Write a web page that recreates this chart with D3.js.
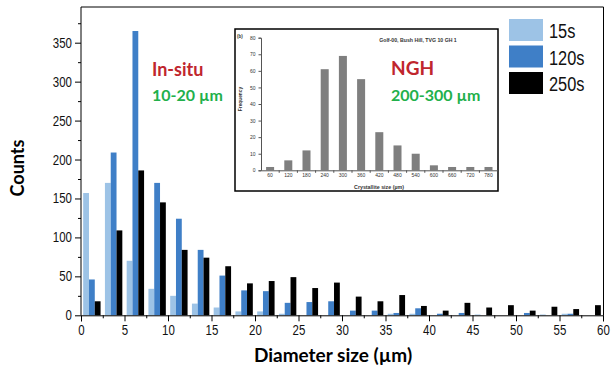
<!DOCTYPE html>
<html>
<head>
<meta charset="utf-8">
<script src="https://cdn.jsdelivr.net/npm/d3@7"></script>
<style>
  body { margin: 0; background: #fff; }
  svg { display: block; }
</style>
</head>
<body>
<div id="chart"></div>
<script>
// main histogram data: bins of 2.5 um
const binStart = [0, 2.5, 5, 7.5, 10, 12.5, 15, 17.5, 20, 22.5, 25, 27.5,
                  30, 32.5, 35, 37.5, 40, 42.5, 45, 47.5, 50, 52.5, 55, 57.5];
const seriesNames = ["15s", "120s", "250s"];
const counts15 = [157, 170, 70, 34, 25, 15, 10, 5, 5, 2, 0, 0, 0, 0, 2, 2, 0, 0, 1, 0, 0, 1, 2, 0];
const counts120 = [46, 209, 365, 170, 124, 84, 51, 32, 31, 16, 17, 18, 6, 6, 3, 9, 2, 3, 0, 0, 3, 0, 2, 0];
const counts250 = [18, 109, 186, 145, 84, 74, 63, 41, 44, 49, 35, 42, 24, 18, 26, 12, 6, 16, 10, 13, 6, 11, 8, 13];
const xTickLabels = [0, 5, 10, 15, 20, 25, 30, 35, 40, 45, 50, 55, 60];
const yTickLabels = [0, 50, 100, 150, 200, 250, 300, 350];

// inset (NGH crystallite size) data
const insetCats = ["60", "120", "180", "240", "300", "360", "420", "480", "540", "600", "660", "720", "780"];
const insetFreq = [2, 6, 12, 61, 69, 55, 23, 15, 10, 3, 2, 2, 2];
const insetYTicks = [0, 10, 20, 30, 40, 50, 60, 70, 80];

const colors = ["#9dc3e6", "#3f7fc7", "#000000"];
const arial = "'Liberation Sans', Arial, sans-serif";
const lato = "Lato, sans-serif";

const width = 613, height = 371;

const svg = d3.select("#chart")
  .append("svg")
  .attr("width", width)
  .attr("height", height);

// scales
const x = d3.scaleLinear().domain([0, 60]).range([81, 603]);
const y = d3.scaleLinear().domain([0, 350]).range([315.3, 42.7]);

const xb = d3.scaleBand()
  .domain(binStart)
  .range([x(0), x(60)])
  .paddingInner(0.2)
  .paddingOuter(0.1);

const xs = d3.scaleBand()
  .domain(seriesNames)
  .range([0, xb.bandwidth()]);

const allSeries = [counts15, counts120, counts250];

// bars
allSeries.forEach((vals, si) => {
  svg.append("g")
    .selectAll("rect")
    .data(vals)
    .enter()
    .append("rect")
    .attr("x", (d, i) => xb(binStart[i]) + xs(seriesNames[si]))
    .attr("y", d => y(d))
    .attr("width", xs.bandwidth())
    .attr("height", d => y(0) - y(d))
    .attr("fill", colors[si]);
});

// frame (top + right)
svg.append("path")
  .attr("d", `M${x(0)},7H${x(60) + 0.5}V${y(0)}`)
  .attr("fill", "none")
  .attr("stroke", "#000")
  .attr("stroke-width", 1);

// x axis, major + minor ticks
const xAxis = svg.append("g")
  .attr("transform", `translate(0,${y(0)})`)
  .call(d3.axisBottom(x).tickValues(xTickLabels).tickSize(6).tickPadding(4).tickFormat(d3.format("d")));
svg.append("g")
  .attr("transform", `translate(0,${y(0)})`)
  .call(d3.axisBottom(x).tickValues(d3.range(2.5, 60, 5)).tickSize(3).tickFormat(""))
  .select(".domain").remove();

// y axis, major + minor ticks
const yAxis = svg.append("g")
  .attr("transform", `translate(${x(0)},0)`)
  .call(d3.axisLeft(y).tickValues(yTickLabels).tickSize(6).tickPadding(3))
  .call(g => g.select(".domain").attr("d", `M0,${y(0)}V7`));
svg.append("g")
  .attr("transform", `translate(${x(0)},0)`)
  .call(d3.axisLeft(y).tickValues(d3.range(25, 400, 50)).tickSize(3).tickFormat(""))
  .select(".domain").remove();

// narrow-looking tick labels: squeeze horizontally around the anchor point
[xAxis, yAxis].forEach(ax => {
  ax.selectAll(".tick text").each(function() {
    const t = d3.select(this);
    const tx = +t.attr("x") || 0;
    t.attr("font-family", arial)
      .attr("font-size", 14)
      .attr("fill", "#111")
      .attr("transform", `translate(${tx},0) scale(0.82,1) translate(${-tx},0)`);
  });
});

svg.selectAll(".tick line, .domain").attr("stroke", "#000");

// axis titles
svg.append("text")
  .attr("x", 333)
  .attr("y", 362)
  .attr("text-anchor", "middle")
  .attr("font-family", lato)
  .attr("font-weight", "bold")
  .attr("font-size", 19)
  .text("Diameter size (µm)");

svg.append("text")
  .attr("transform", "translate(24,168) rotate(-90)")
  .attr("text-anchor", "middle")
  .attr("font-family", lato)
  .attr("font-weight", "bold")
  .attr("font-size", 18)
  .text("Counts");

// annotations
svg.append("text").attr("x", 152).attr("y", 75.5)
  .attr("font-family", lato).attr("font-weight", "bold")
  .attr("font-size", 18).attr("fill", "#c0262d").text("In-situ");
svg.append("text").attr("x", 152).attr("y", 100.5)
  .attr("font-family", lato).attr("font-weight", "bold")
  .attr("font-size", 16).attr("fill", "#22b04b").text("10-20 µm");

// legend
const legend = svg.append("g");
seriesNames.forEach((name, i) => {
  legend.append("rect")
    .attr("x", 509).attr("y", 19 + i * 26.5)
    .attr("width", 34).attr("height", 22)
    .attr("fill", colors[i]);
  legend.append("text")
    .attr("transform", `translate(549,${38 + i * 26.5}) scale(0.78,1)`)
    .attr("font-family", arial)
    .attr("font-size", 21)
    .attr("fill", "#111")
    .text(name);
});

// ---------- inset chart ----------
const inset = svg.append("g");
inset.append("rect")
  .attr("x", 235).attr("y", 29)
  .attr("width", 263).attr("height", 162)
  .attr("fill", "#fff")
  .attr("stroke", "#000")
  .attr("stroke-width", 1.5);

const xi = d3.scaleBand()
  .domain(insetCats)
  .range([261, 497.6])
  .paddingInner(0.56)
  .paddingOuter(0.28);
const yi = d3.scaleLinear().domain([0, 80]).range([170.3, 37.7]);

inset.append("g")
  .selectAll("rect")
  .data(insetFreq)
  .enter()
  .append("rect")
  .attr("x", (d, i) => xi(insetCats[i]))
  .attr("y", d => yi(d))
  .attr("width", xi.bandwidth())
  .attr("height", d => yi(0) - yi(d))
  .attr("fill", "#7f7f7f");

const ixAxis = inset.append("g")
  .attr("transform", `translate(0,${yi(0)})`)
  .call(d3.axisBottom(xi).tickSize(0).tickPadding(3));
// category boundary ticks
inset.append("g")
  .attr("transform", `translate(0,${yi(0)})`)
  .selectAll("line")
  .data(insetCats.slice(1))
  .enter()
  .append("line")
  .attr("x1", d => xi(d) - xi.step() * xi.paddingInner() / 2)
  .attr("x2", d => xi(d) - xi.step() * xi.paddingInner() / 2)
  .attr("y1", 0).attr("y2", 2.5)
  .attr("stroke", "#555");

const iyAxis = inset.append("g")
  .attr("transform", `translate(261,0)`)
  .call(d3.axisLeft(yi).tickValues(insetYTicks).tickSize(2.5).tickPadding(3));

inset.selectAll(".domain, .tick line").attr("stroke", "#555");
inset.selectAll(".tick text")
  .attr("font-family", arial)
  .attr("font-size", 5)
  .attr("fill", "#333");

inset.append("text").attr("x", 237).attr("y", 38)
  .attr("font-family", arial).attr("font-weight", "bold")
  .attr("font-size", 4.5).attr("fill", "#333").text("(b)");
inset.append("text").attr("x", 418).attr("y", 42)
  .attr("text-anchor", "middle")
  .attr("font-family", arial).attr("font-weight", "bold")
  .attr("font-size", 5.2).attr("fill", "#333").text("Golf-00, Bush Hill, TVG 10 GH 1");
inset.append("text").attr("transform", "translate(242,99) rotate(-90)")
  .attr("text-anchor", "middle")
  .attr("font-family", arial).attr("font-weight", "bold")
  .attr("font-size", 4.8).attr("fill", "#333").text("Frequency");
inset.append("text").attr("x", 379).attr("y", 189)
  .attr("text-anchor", "middle")
  .attr("font-family", arial).attr("font-weight", "bold")
  .attr("font-size", 5.3).attr("fill", "#333").text("Crystallite size (µm)");

inset.append("text").attr("x", 391).attr("y", 75)
  .attr("font-family", lato).attr("font-weight", "bold")
  .attr("font-size", 19).attr("fill", "#c0262d").text("NGH");
inset.append("text").attr("x", 391).attr("y", 101)
  .attr("font-family", lato).attr("font-weight", "bold")
  .attr("font-size", 16).attr("fill", "#22b04b").text("200-300 µm");
</script>
</body>
</html>
